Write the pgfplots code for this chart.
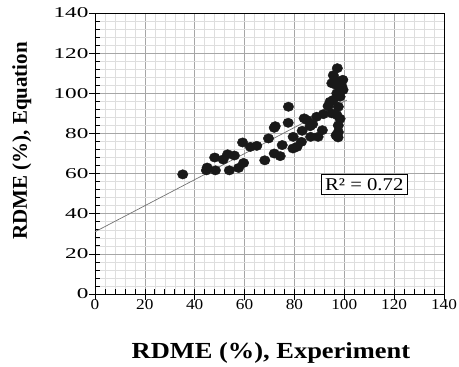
\documentclass[border=0pt]{standalone}
\usepackage{fontspec}
\setmainfont{Liberation Serif}[FakeStretch=1.15]
\newfontfamily\plainserif{Liberation Serif}
\newfontfamily\wideserif{Liberation Serif}[FakeStretch=1.55]
\usepackage{pgfplots}
\pgfplotsset{compat=1.18}
\begin{document}
\begin{tikzpicture}
\begin{axis}[
  scale only axis,
  width=349pt, height=281pt,
  xmin=0, xmax=140, ymin=0, ymax=140,
  xtick={0,20,...,140}, ytick={0,20,...,140},
  minor tick num=4,
  grid=both,
  major grid style={color=black!35, line width=0.6pt},
  minor grid style={color=black!13, line width=0.5pt},
  axis line style={black, line width=0.8pt},
  xtick pos=left, ytick pos=left,
  tick align=inside,
  major tick length=5pt,
  minor tick length=5pt,
  tick style={black, line width=0.7pt},
  extra x ticks={0,20,...,140}, extra y ticks={0,20,...,140},
  extra x tick labels={}, extra y tick labels={},
  extra tick style={grid=none, tick align=outside, major tick length=6pt},
  /pgf/number format/assume math mode=true,
  xticklabel style={font=\fontsize{15}{18}\selectfont, yshift=-2pt},
  yticklabel style={font=\wideserif\fontsize{15}{18}\selectfont, xshift=-3pt},
  xlabel={\textbf{RDME (\%), Experiment}},
  ylabel={\plainserif\bfseries RDME (\%), Equation},
  xlabel style={font=\fontsize{23}{26}\selectfont, at={(axis description cs:0.504,-0.228)}, anchor=base},
  ylabel style={font=\fontsize{21}{24}\selectfont, at={(axis description cs:-0.21,0.545)}, anchor=center, rotate=0},
]
\addplot[color=black!55, line width=0.7pt] coordinates {(0,31) (101,96.6)};
\addplot[only marks, mark=*, mark size=4.7pt, mark options={xscale=1.12, fill=black!90, draw=black!90}, color=black!90] coordinates {
(35.2,59.6)
(44.7,61.6)
(45,63)
(48.3,61.6)
(48,68)
(51.4,67)
(53.2,69.6)
(55.9,69)
(53.9,61.6)
(57.6,62.8)
(59.6,65.3)
(59.2,75.5)
(62.3,73.3)
(64.9,73.8)
(68.1,66.6)
(69.6,77.5)
(71.9,82.8)
(72.3,83.6)
(71.9,70)
(74.3,68.7)
(75.1,74.2)
(77.6,93.3)
(77.5,85.3)
(79.5,78.3)
(79.4,72.5)
(81,73.3)
(82.8,75.8)
(83.1,81.3)
(83.9,87.5)
(85,86.7)
(86.3,83.6)
(86.5,78.3)
(87.3,84.6)
(89.5,78.3)
(88.9,88.3)
(91.2,81.6)
(91.6,89.6)
(93.5,93.6)
(94.3,95.8)
(95,90)
(97.2,112.5)
(95.6,109)
(99.4,106.7)
(96.7,104.2)
(99.5,101.7)
(97,100)
(95.6,96.7)
(97.6,93.3)
(97,89.2)
(98.3,87.3)
(97.6,84)
(97.6,80.7)
(97.5,78)
(96.7,79)
(98.3,98.3)
(99,103.5)
(95,105)
(96.3,106.6)
};
\node[draw=black, line width=0.6pt, fill=white, inner xsep=4pt, inner ysep=4pt, font=\fontsize{18}{20}\selectfont] at (axis cs:108,54.6) {R² = 0.72};
\end{axis}
\pgfresetboundingbox
\path ([shift={(-95pt,-72pt)}]current axis.south west) rectangle ([shift={(15pt,13pt)}]current axis.north east);
\end{tikzpicture}
\end{document}
